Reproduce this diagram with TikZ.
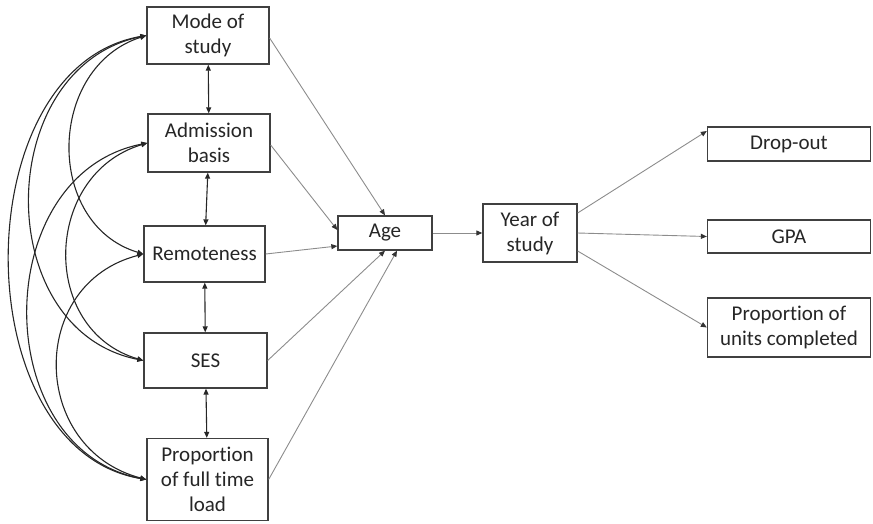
\documentclass[tikz,border=0pt]{standalone}
\usepackage{fontspec}
\setmainfont{Carlito}[Ligatures=NoCommon]
\usetikzlibrary{arrows.meta}
\begin{document}
\begin{tikzpicture}[x=1pt,y=-1pt,
  box/.style={draw=black!75, line width=1.3pt, fill=white, inner sep=0pt,
    align=center, text=black!85, font=\fontsize{21}{25}\selectfont},
  tip/.style={-{Triangle[length=6pt,width=5pt,color=black!80]}},
  both/.style={{Triangle[length=6pt,width=5pt]}-{Triangle[length=6pt,width=5pt]}},
  corr/.style={both, black!85, line width=1.1pt},
  path/.style={tip, draw=black!45, line width=0.9pt}]
\useasboundingbox (0,0) rectangle (873,523);

% predictors
\node[box, minimum width=122pt, minimum height=57pt] (mode) at (208,35.5) {Mode of\\study};
\node[box, minimum width=122pt, minimum height=58pt] (adm)  at (209,143) {Admission\\basis};
\node[box, minimum width=121pt, minimum height=56pt] (rem)  at (204.5,254) {Remoteness};
\node[box, minimum width=123pt, minimum height=55pt] (ses)  at (205.5,360.5) {SES};
\node[box, minimum width=121pt, minimum height=82pt] (ftl)  at (207.5,479.5) {Proportion\\of full time\\load};

% mediators
\node[box, minimum width=94pt, minimum height=34pt] (age)  at (385,233) {Age};
\node[box, minimum width=94pt, minimum height=58pt] (year) at (530,233) {Year of\\study};

% outcomes
\node[box, minimum width=163pt, minimum height=34pt] (drop)  at (789,144) {Drop-out};
\node[box, minimum width=163pt, minimum height=33pt] (gpa)   at (789,236.5) {GPA};
\node[box, minimum width=163pt, minimum height=59pt] (units) at (789,327.5) {Proportion of\\units completed};

% correlations between neighbouring predictors
\draw[corr] (mode) -- (adm);
\draw[corr] (adm) -- (rem);
\draw[corr] (rem) -- (ses);
\draw[corr] (ses) -- (ftl);

% correlations between non-neighbouring predictors
\draw[corr] (mode.west) .. controls (47,67) and (44,224) .. (rem.west);
\draw[corr] (mode.west) .. controls (-7,67) and (-10,330) .. (ses.west);
\draw[corr] (mode.west) .. controls (-36,67) and (-36,449) .. (ftl.west);
\draw[corr] (adm.west) .. controls (43,174) and (39,330) .. (ses.west);
\draw[corr] (adm.west) .. controls (-11,174) and (-12,449) .. (ftl.west);
\draw[corr] (rem.west) .. controls (27,284) and (30,449) .. (ftl.west);

% paths into age
\draw[path] ([yshift=-2.5pt]mode.east) -- (age.north);
\draw[path] ([yshift=-2pt]adm.east) -- ([yshift=3pt]age.west);
\draw[path] (rem.east) -- ([yshift=-13pt]age.west);
\draw[path] (ses.east) -- (age.south);
\draw[path] (ftl.east) -- ([xshift=12pt]age.south);

% age to year of study to outcomes
\draw[path] (age) -- (year);
\draw[path] ([yshift=20pt]year.east) -- ([yshift=13pt]drop.west);
\draw[path] (year.east) -- (gpa.west);
\draw[path] ([yshift=-18pt]year.east) -- (units.west);
\end{tikzpicture}
\end{document}
